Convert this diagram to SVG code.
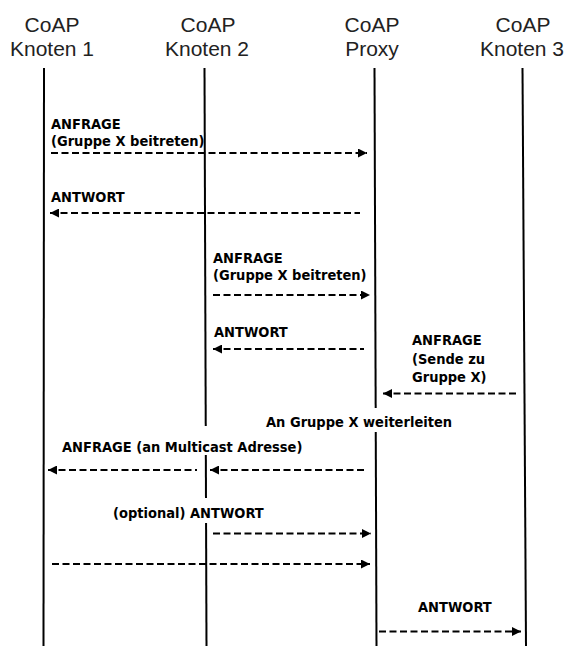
<svg xmlns="http://www.w3.org/2000/svg" width="568" height="646" viewBox="0 0 568 646">
<defs>
<marker id="ah" viewBox="0 0 10 10" refX="10" refY="5" markerWidth="10" markerHeight="9" markerUnits="userSpaceOnUse" orient="auto-start-reverse">
<path d="M0,0 L10,5 L0,10 z" fill="#000"/>
</marker>
<style>
.hd{font-family:"Liberation Sans",Arial,sans-serif;font-size:21px;fill:#222;text-anchor:middle}
.lb{font-family:"DejaVu Sans Condensed","DejaVu Sans",sans-serif;font-weight:bold;font-size:14.5px;fill:#000}
.life{stroke:#000;stroke-width:2}
.msg{stroke:#000;stroke-width:2;stroke-dasharray:7,3.5;fill:none}
.end{marker-end:url(#ah)}
.start{marker-start:url(#ah)}
.mask{fill:#fff}
</style>
</defs>
<rect width="568" height="646" fill="#fff"/>
<g id="lifelines">
<g id="knoten1"><text class="hd" x="52" y="32">CoAP</text><text class="hd" x="52" y="56">Knoten 1</text><line class="life" x1="44" y1="68" x2="43.5" y2="646"/></g>
<g id="knoten2"><text class="hd" x="208" y="32">CoAP</text><text class="hd" x="207" y="56">Knoten 2</text><line class="life" x1="204.5" y1="68" x2="206.5" y2="646"/></g>
<g id="proxy"><text class="hd" x="372" y="32">CoAP</text><text class="hd" x="372" y="56">Proxy</text><line class="life" x1="374.5" y1="68" x2="376.5" y2="646"/></g>
<g id="knoten3"><text class="hd" x="523" y="32">CoAP</text><text class="hd" x="522" y="56">Knoten 3</text><line class="life" x1="522.5" y1="68" x2="526" y2="646"/></g>
</g>
<g id="masks">
<rect class="mask" x="365" y="408" width="20" height="24"/>
<rect class="mask" x="195" y="426" width="20" height="29"/>
<rect class="mask" x="195" y="498" width="20" height="25"/>
</g>
<g id="connectors">
<line class="msg end" x1="51" y1="153" x2="367" y2="153"/>
<line class="msg start" x1="50" y1="213" x2="360" y2="213"/>
<line class="msg end" x1="213" y1="295" x2="370" y2="295"/>
<line class="msg start" x1="213" y1="349" x2="364" y2="349"/>
<line class="msg start" x1="383" y1="393.5" x2="517" y2="393.5"/>
<line class="msg start" x1="48" y1="470" x2="197" y2="470"/>
<line class="msg start" x1="210" y1="470" x2="365" y2="470"/>
<line class="msg end" x1="213" y1="533.5" x2="371" y2="533.5"/>
<line class="msg end" x1="52" y1="564" x2="370" y2="564"/>
<line class="msg end" x1="379" y1="631.5" x2="521" y2="631.5"/>
</g>
<g id="labels">
<text class="lb" x="51" y="129">ANFRAGE</text>
<text class="lb" x="51" y="146">(Gruppe X beitreten)</text>
<text class="lb" x="51" y="202">ANTWORT</text>
<text class="lb" x="213" y="263">ANFRAGE</text>
<text class="lb" x="213" y="280">(Gruppe X beitreten)</text>
<text class="lb" x="214" y="337">ANTWORT</text>
<text class="lb" x="412" y="345">ANFRAGE</text>
<text class="lb" x="412" y="364">(Sende zu</text>
<text class="lb" x="412" y="382">Gruppe X)</text>
<text class="lb" x="266" y="427">An Gruppe X weiterleiten</text>
<text class="lb" x="62" y="452">ANFRAGE (an Multicast Adresse)</text>
<text class="lb" x="113" y="518">(optional) ANTWORT</text>
<text class="lb" x="418" y="612">ANTWORT</text>
</g>
</svg>
